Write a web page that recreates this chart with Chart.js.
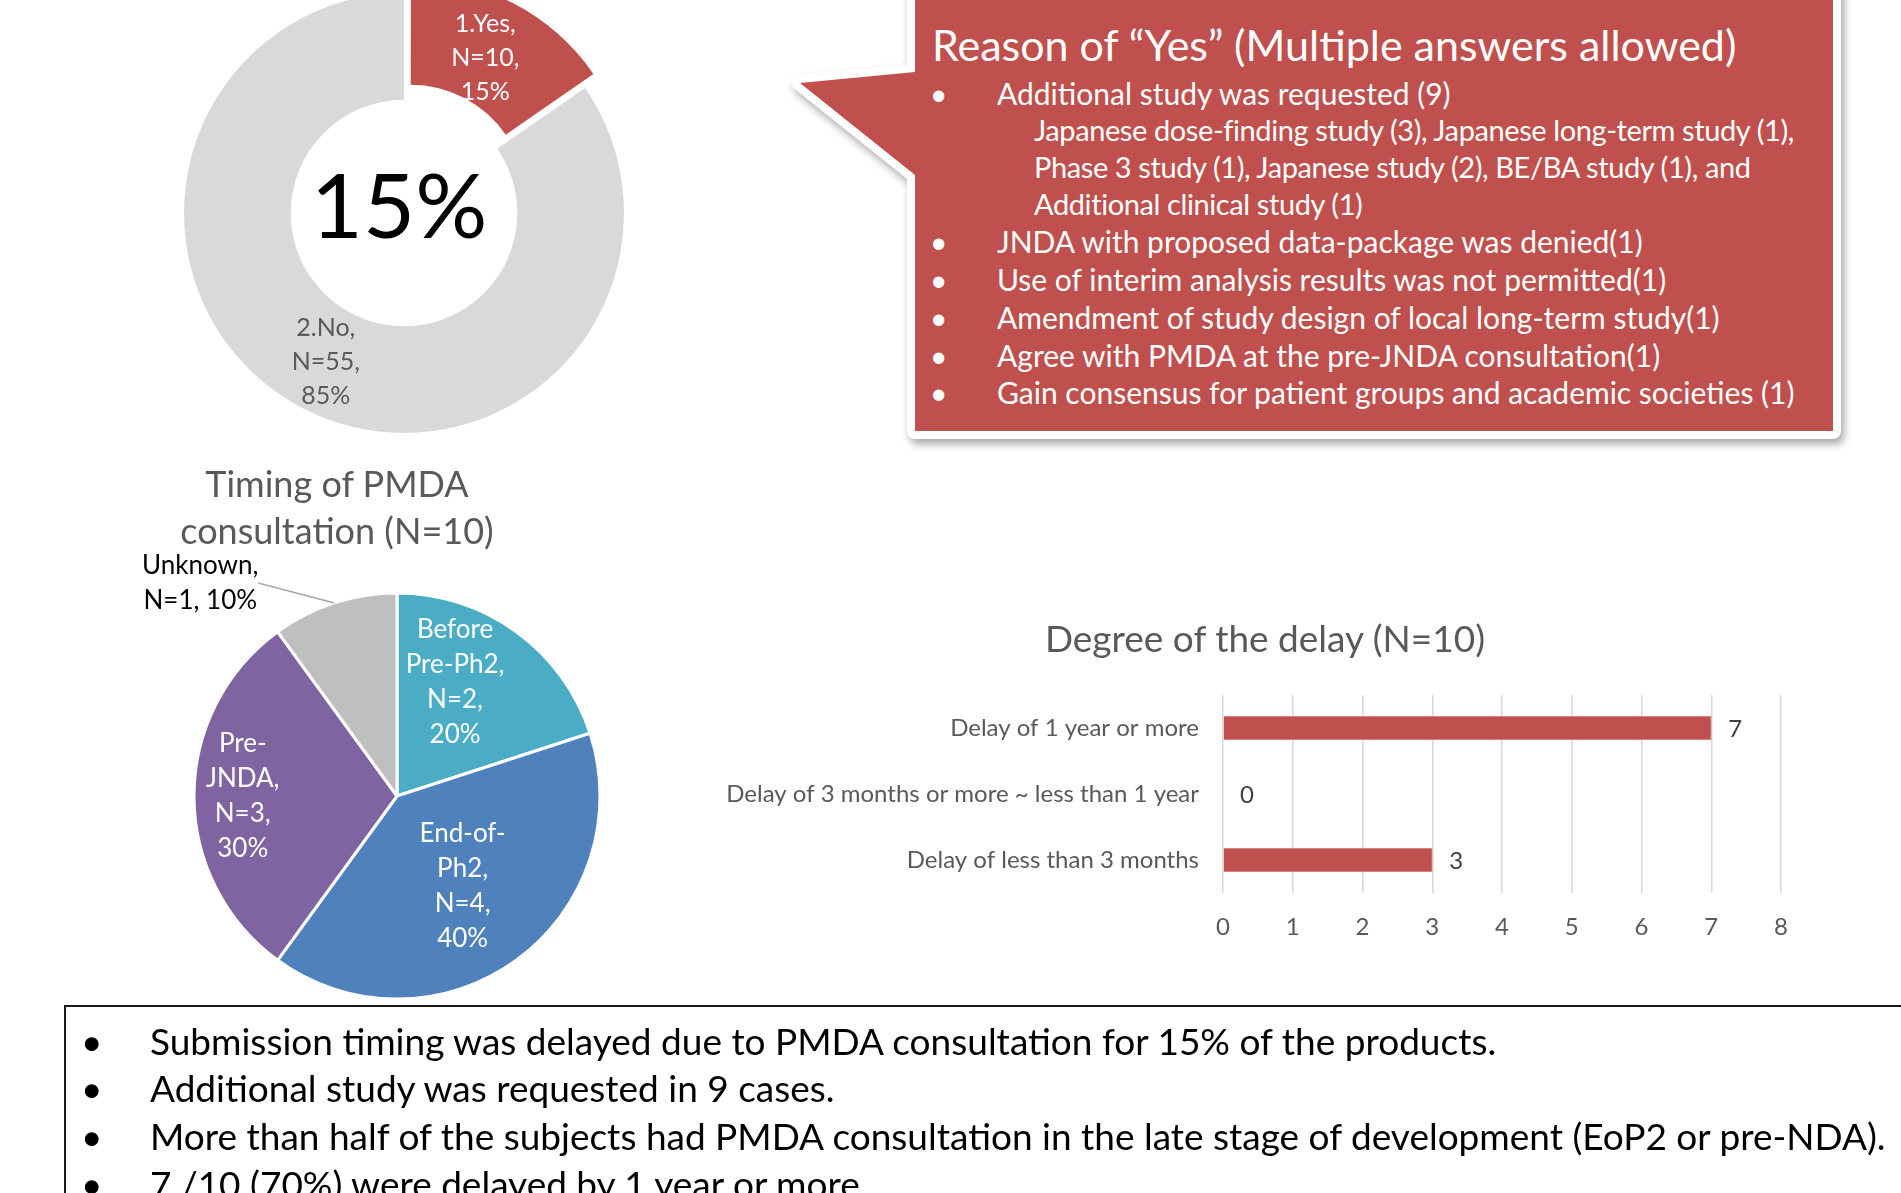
<!DOCTYPE html>
<html>
<head>
<meta charset="utf-8">
<title>PMDA consultation</title>
<script src="https://cdn.jsdelivr.net/npm/chart.js@4.4.1/dist/chart.umd.min.js"></script>
<style>
  html, body { margin: 0; padding: 0; background: #fff; overflow: hidden; }
  body { width: 1901px; height: 1193px; position: relative; font-family: Lato, "Open Sans", sans-serif; }
  canvas { position: absolute; }
  #donutChart { left: 164px; top: -27px; }
  #pieChart { left: 137px; top: 536px; }
  #delayChart { left: 700px; top: 600px; }

  /* ---- callout ---- */
  #callout { position: absolute; left: 0; top: 0; overflow: visible;
             filter: drop-shadow(3px 5px 4px rgba(0,0,0,0.35)); }
  .ct { position: absolute; color: #fff; white-space: nowrap; height: 38px; line-height: 38px; }
  .ct.title { left: 932px; top: 20px; font-size: 43px; height: 50px; line-height: 50px; }
  .ct.item { left: 997px; font-size: 30px; }
  .ct.item::before { content: "\2022"; position: absolute; left: -67px; }
  .ct.sub { left: 1034px; font-size: 29px; letter-spacing: -0.4px; }

  /* ---- chart titles ---- */
  .chartTitle { position: absolute; text-align: center; color: #595959; white-space: nowrap; }
  #pieTitle { left: 87px; top: 460px; width: 500px; font-size: 36px; line-height: 47px; }
  #delayTitle { left: 1015px; top: 616px; width: 500px; font-size: 37px; line-height: 44px; }

  /* ---- summary box ---- */
  #summary { position: absolute; left: 64px; top: 1005px; width: 1900px; height: 400px;
             border: 2px solid #1a1a1a; box-sizing: border-box; }
  .sm { position: absolute; left: 150px; font-size: 37px; height: 48px; line-height: 48px;
        white-space: nowrap; color: #000; }
  .sm::before { content: "\2022"; position: absolute; left: -69px; }
</style>
</head>
<body>

<svg id="callout" width="1901" height="500">
  <path d="M915,-30 H1833 V431 H915 V175 L800,83 L915,72 Z"
        fill="#C0504D" stroke="#fff" stroke-width="16" stroke-linejoin="round" paint-order="stroke"/>
</svg>
<div class="ct title">Reason of “Yes” (Multiple answers allowed)</div>
<div class="ct item" style="top:74px">Additional study was requested (9)</div>
<div class="ct sub" style="top:111px">Japanese dose-finding study (3), Japanese long-term study (1),</div>
<div class="ct sub" style="top:148px">Phase 3 study (1), Japanese study (2), BE/BA study (1), and</div>
<div class="ct sub" style="top:185px">Additional clinical study (1)</div>
<div class="ct item" style="top:222px">JNDA with proposed data-package was denied(1)</div>
<div class="ct item" style="top:260px">Use of interim analysis results was not permitted(1)</div>
<div class="ct item" style="top:298px">Amendment of study design of local long-term study(1)</div>
<div class="ct item" style="top:336px">Agree with PMDA at the pre-JNDA consultation(1)</div>
<div class="ct item" style="top:373px">Gain consensus for patient groups and academic societies (1)</div>

<canvas id="donutChart" width="480" height="480"></canvas>

<canvas id="pieChart" width="520" height="520"></canvas>
<div class="chartTitle" id="pieTitle">Timing of PMDA<br>consultation (N=10)</div>

<canvas id="delayChart" width="1140" height="360"></canvas>
<div class="chartTitle" id="delayTitle">Degree of the delay (N=10)</div>

<div id="summary"></div>
<div class="sm" style="top:1017px">Submission timing was delayed due to PMDA consultation for 15% of the products.</div>
<div class="sm" style="top:1064px">Additional study was requested in 9 cases.</div>
<div class="sm" style="top:1112px">More than half of the subjects had PMDA consultation in the late stage of development (EoP2 or pre-NDA).</div>
<div class="sm" style="top:1160px">7 /10 (70%) were delayed by 1 year or more.</div>

<script>
/* ================= DATA ================= */
const consultLabels = ["1.Yes", "2.No"];
const consultCounts = [10, 55];

const timingLabels = ["Before Pre-Ph2", "End-of-Ph2", "Pre-JNDA", "Unknown"];
const timingCounts = [2, 4, 3, 1];
// how the slice names are broken in the labels
const timingLabelLines = [["Before", "Pre-Ph2,"], ["End-of-", "Ph2,"], ["Pre-", "JNDA,"], ["Unknown,"]];

const delayLabels = [
    "Delay of 1 year or more",
    "Delay of 3 months or more ~ less than 1 year",
    "Delay of less than 3 months"
];
const delayCounts = [7, 0, 3];

/* ================= COLORS ================= */
const RED = "#C0504D";
const GREY_TEXT = "#595959";

Chart.defaults.font.family = "Lato, 'Open Sans', sans-serif";

/* ================= PLUGINS ================= */
// text inside / beside the slices
const sliceLabels = {
    id: "sliceLabels",
    afterDatasetsDraw(chart, args, opts) {
        const ctx = chart.ctx;
        const meta = chart.getDatasetMeta(0);
        const values = chart.data.datasets[0].data;
        const total = values.reduce((a, b) => a + b, 0);

        ctx.save();
        ctx.font = opts.font;
        ctx.textAlign = "center";
        ctx.textBaseline = "middle";

        meta.data.forEach((arc, i) => {
            const pct = Math.round(values[i] / total * 100);
            const lines = opts.text(i, values[i], pct);
            const place = opts.place ? opts.place[i] : null;
            const mid = (arc.startAngle + arc.endAngle) / 2;
            let p;

            if (place && place.outside) {
                // leader line from slice edge
                const ex = arc.x + Math.cos(mid) * arc.outerRadius;
                const ey = arc.y + Math.sin(mid) * arc.outerRadius;
                ctx.strokeStyle = "#A6A6A6";
                ctx.lineWidth = 1.5;
                ctx.beginPath();
                ctx.moveTo(ex, ey);
                ctx.lineTo(ex + place.lx, ey + place.ly);
                ctx.stroke();
                p = { x: ex + place.dx, y: ey + place.dy };
            } else if (place) {
                const a = mid + place.turn * Math.PI / 180;
                p = {
                    x: arc.x + Math.cos(a) * arc.outerRadius * place.r,
                    y: arc.y + Math.sin(a) * arc.outerRadius * place.r
                };
            } else {
                p = arc.getCenterPoint();
            }

            ctx.fillStyle = opts.colors[i];
            lines.forEach((t, k) => {
                ctx.fillText(t, p.x, p.y + (k - (lines.length - 1) / 2) * opts.lineHeight);
            });
        });

        // big number in the hole
        if (opts.center) {
            const arc = meta.data[meta.data.length - 1];
            ctx.font = opts.center.font;
            ctx.fillStyle = "#000";
            ctx.fillText(opts.center.text, arc.x - 5, arc.y - 4);
        }
        ctx.restore();
    }
};

// value next to each bar
const barValues = {
    id: "barValues",
    afterDatasetsDraw(chart, args, opts) {
        const ctx = chart.ctx;
        const meta = chart.getDatasetMeta(0);
        const values = chart.data.datasets[0].data;
        ctx.save();
        ctx.font = opts.font;
        ctx.fillStyle = opts.color;
        ctx.textAlign = "left";
        ctx.textBaseline = "middle";
        meta.data.forEach((bar, i) => {
            ctx.fillText(String(values[i]), bar.x + 17, bar.y + 1);
        });
        ctx.restore();
    }
};

/* ================= DONUT: Yes / No ================= */
const consultTotal = consultCounts.reduce((a, b) => a + b, 0);

new Chart(document.getElementById("donutChart"), {
    type: "doughnut",
    data: {
        labels: consultLabels,
        datasets: [{
            data: consultCounts,
            backgroundColor: [RED, "#D9D9D9"],
            borderWidth: 0,
            offset: [56, 0]   // arc draws offset/4 -> ~14px pulled out
        }]
    },
    options: {
        responsive: false,
        animation: false,
        radius: 220,
        cutout: "51.5%",
        plugins: {
            legend: { display: false },
            tooltip: { enabled: false },
            sliceLabels: {
                font: "25px Lato",
                lineHeight: 34,
                colors: ["#fff", GREY_TEXT],
                place: [{ r: 0.795, turn: 0 }, { r: 0.765, turn: 0 }],
                text: (i, v, pct) => [consultLabels[i] + ",", "N=" + v + ",", pct + "%"],
                center: {
                    font: "90px Lato",
                    text: Math.round(consultCounts[0] / consultTotal * 100) + "%"
                }
            }
        }
    },
    plugins: [sliceLabels]
});

/* ================= PIE: timing ================= */
new Chart(document.getElementById("pieChart"), {
    type: "pie",
    data: {
        labels: timingLabels,
        datasets: [{
            data: timingCounts,
            backgroundColor: ["#4BACC6", "#4F81BD", "#8064A2", "#BFBFBF"],
            borderColor: "#fff",
            borderWidth: 3
        }]
    },
    options: {
        responsive: false,
        animation: false,
        radius: 203,
        plugins: {
            legend: { display: false },
            tooltip: { enabled: false },
            sliceLabels: {
                font: "26px Lato",
                lineHeight: 35,
                colors: ["#fff", "#fff", "#fff", "#000"],
                place: [
                    { r: 0.63, turn: -9 },
                    { r: 0.55, turn: 0 },
                    { r: 0.76, turn: 0 },
                    { outside: true, dx: -134, dy: -20, lx: -76, ly: -20 }
                ],
                text: (i, v, pct) => {
                    if (i === timingCounts.length - 1) {
                        return [...timingLabelLines[i], "N=" + v + ", " + pct + "%"];
                    }
                    return [...timingLabelLines[i], "N=" + v + ",", pct + "%"];
                }
            }
        }
    },
    plugins: [sliceLabels]
});

/* ================= BAR: degree of delay ================= */
new Chart(document.getElementById("delayChart"), {
    type: "bar",
    data: {
        labels: delayLabels,
        datasets: [{
            data: delayCounts,
            backgroundColor: RED,
            borderColor: "#D99694",
            borderWidth: 1,
            barThickness: 24
        }]
    },
    options: {
        indexAxis: "y",
        responsive: false,
        animation: false,
        layout: { padding: { top: 95, right: 59 } },
        scales: {
            x: {
                min: 0,
                max: 8,
                ticks: { stepSize: 1, color: GREY_TEXT, font: { size: 24 }, padding: 20 },
                grid: { color: "#D9D9D9", lineWidth: 1.5, drawTicks: false },
                border: { display: false },
                afterFit(scale) { scale.height = 67; }
            },
            y: {
                ticks: { color: GREY_TEXT, font: { size: 24 }, padding: 24 },
                grid: { display: false, drawTicks: false },
                border: { display: false },
                afterFit(scale) { scale.width = 523; }
            }
        },
        plugins: {
            legend: { display: false },
            tooltip: { enabled: false },
            barValues: { font: "24px Lato", color: "#404040" }
        }
    },
    plugins: [barValues]
});
</script>
</body>
</html>
